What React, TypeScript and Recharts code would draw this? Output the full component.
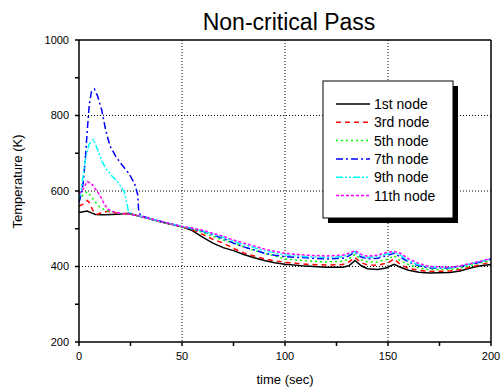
import React from 'react';
import { LineChart, Line, XAxis, YAxis, CartesianGrid } from 'recharts';

// [time (sec), temperature (K)]
const node1 = [
  [0, 543], [2, 545], [4, 547], [6, 542], [8, 538], [12, 537], [16, 538], [20, 539], [24, 541],
  [28, 535], [32, 530], [40, 518], [50, 505], [55, 495], [60, 478], [65, 462], [70, 450],
  [75, 442], [80, 432], [85, 423], [90, 416], [95, 410], [100, 406], [110, 401], [120, 398],
  [128, 398], [131, 402], [134, 416], [137, 402], [140, 394], [145, 392], [149, 396], [153, 406],
  [156, 398], [160, 390], [165, 385], [170, 383], [180, 384], [185, 388], [190, 396], [195, 402],
  [200, 405],
];
const node3 = [
  [0, 560], [2, 565], [4, 575], [5, 570], [7, 545], [9, 538], [11, 543], [14, 546], [18, 542],
  [22, 540], [26, 538], [30, 532], [40, 518], [50, 505], [55, 498], [60, 485], [65, 472],
  [70, 462], [75, 448], [80, 436], [85, 428], [90, 420], [95, 415], [100, 411], [110, 406],
  [120, 404], [128, 405], [131, 412], [134, 424], [137, 410], [140, 404], [145, 403], [150, 410],
  [153, 420], [156, 405], [160, 395], [165, 390], [170, 387], [180, 388], [185, 392], [190, 398],
  [195, 405], [200, 412],
];
const node5 = [
  [0, 575], [2, 590], [4, 598], [6, 585], [8, 570], [10, 558], [13, 548], [16, 545], [20, 541],
  [25, 538], [30, 532], [40, 518], [50, 505], [55, 499], [60, 490], [65, 480], [70, 470],
  [75, 462], [80, 452], [85, 443], [90, 435], [95, 428], [100, 420], [110, 415], [120, 412],
  [128, 414], [131, 420], [134, 432], [137, 418], [140, 412], [145, 412], [150, 420], [153, 428],
  [156, 415], [160, 405], [165, 396], [170, 392], [180, 392], [185, 396], [190, 402], [195, 410],
  [200, 416],
];
const node7 = [
  [0, 570], [1, 590], [2, 620], [3, 680], [4, 760], [5, 830], [6, 862], [7.5, 870], [9, 852],
  [11, 815], [13, 760], [15, 720], [18, 690], [21, 668], [24, 648], [27, 620], [28.5, 590],
  [29, 545], [30, 535], [35, 526], [40, 519], [50, 506], [55, 500], [60, 493], [65, 484],
  [70, 474], [75, 462], [80, 452], [85, 444], [90, 435], [95, 430], [100, 426], [110, 423],
  [120, 420], [128, 422], [131, 428], [134, 438], [137, 425], [140, 420], [145, 422], [150, 430],
  [153, 435], [156, 425], [160, 412], [165, 402], [170, 396], [180, 396], [185, 400], [190, 406],
  [195, 412], [200, 420],
];
const node9 = [
  [0, 580], [1, 600], [2, 640], [3, 680], [4, 705], [5, 725], [7, 737], [9, 710], [11, 680],
  [13, 660], [16, 640], [19, 622], [22, 598], [23.5, 560], [24, 545], [26, 538], [30, 533],
  [40, 519], [50, 506], [55, 501], [60, 494], [65, 486], [70, 477], [75, 467], [80, 458],
  [85, 450], [90, 442], [95, 436], [100, 431], [110, 426], [120, 424], [128, 426], [131, 432],
  [134, 440], [137, 428], [140, 424], [145, 426], [150, 434], [153, 438], [156, 430], [160, 415],
  [165, 404], [170, 398], [180, 397], [185, 401], [190, 407], [195, 413], [200, 421],
];
const node11 = [
  [0, 592], [2, 605], [4, 625], [6, 620], [8, 605], [10, 590], [12, 568], [14, 552], [16, 546],
  [20, 541], [25, 538], [30, 533], [40, 519], [50, 506], [55, 502], [60, 496], [65, 488],
  [70, 480], [75, 470], [80, 462], [85, 454], [90, 446], [95, 440], [100, 435], [110, 430],
  [120, 428], [128, 430], [131, 435], [134, 442], [137, 432], [140, 427], [145, 430], [150, 438],
  [153, 440], [156, 435], [160, 420], [165, 408], [170, 400], [180, 398], [185, 402], [190, 408],
  [195, 414], [200, 422],
];

const seriesNames = ['1st node', '3rd node', '5th node', '7th node', '9th node', '11th node'];
const xTicks = [0, 25, 50, 75, 100, 125, 150, 175, 200];
const yTicks = [200, 300, 400, 500, 600, 700, 800, 900, 1000];

const FONT = '"Liberation Sans", Arial, sans-serif';

const series = [
  { name: seriesNames[0], data: node1, color: '#000000', dash: undefined },
  { name: seriesNames[1], data: node3, color: '#ff0000', dash: '5 4' },
  { name: seriesNames[2], data: node5, color: '#00ff00', dash: '2 3' },
  { name: seriesNames[3], data: node7, color: '#0000ff', dash: '7 3 2 3' },
  { name: seriesNames[4], data: node9, color: '#00ffff', dash: '7 2 2 2 2 2' },
  { name: seriesNames[5], data: node11, color: '#ff00ff', dash: '3 2' },
];

const toPoints = (pairs: number[][]) => pairs.map(([t, T]) => ({ t, T }));

export default function App() {
  const tickStyle = { fontSize: 11, fill: '#000', fontFamily: FONT };
  return (
    <div style={{ position: 'absolute', left: 0, top: 0, width: 504, height: 392, background: '#fff' }}>
      <LineChart width={504} height={392} margin={{ top: 40, right: 13, bottom: 0, left: 0 }}>
        <CartesianGrid
          horizontalValues={[400, 600, 800]}
          verticalValues={[50, 100, 150]}
          stroke="#000"
          strokeDasharray="1 2"
        />
        <XAxis
          dataKey="t"
          type="number"
          domain={[0, 200]}
          ticks={xTicks}
          height={50}
          tickSize={4}
          tickMargin={6}
          tick={tickStyle}
          stroke="#000"
          strokeWidth={1.5}
          tickFormatter={(v: number) => (v % 50 === 0 ? String(v) : '')}
          allowDataOverflow
        />
        <XAxis
          xAxisId="top"
          orientation="top"
          dataKey="t"
          type="number"
          domain={[0, 200]}
          ticks={xTicks}
          height={1}
          mirror
          tickSize={3}
          tick={false}
          stroke="#000"
          strokeWidth={1.5}
        />
        <YAxis
          type="number"
          domain={[200, 1000]}
          ticks={yTicks}
          width={79}
          tickSize={4}
          tickMargin={6}
          tick={tickStyle}
          stroke="#000"
          strokeWidth={1.5}
          tickFormatter={(v: number) => (v % 200 === 0 ? String(v) : '')}
          allowDataOverflow
        />
        <YAxis
          yAxisId="right"
          orientation="right"
          type="number"
          domain={[200, 1000]}
          ticks={yTicks}
          width={1}
          mirror
          tickSize={3}
          tick={false}
          stroke="#000"
          strokeWidth={1.5}
        />
        {series.map((s) => (
          <Line
            key={s.name}
            data={toPoints(s.data)}
            dataKey="T"
            name={s.name}
            type="linear"
            stroke={s.color}
            strokeWidth={1.5}
            strokeDasharray={s.dash}
            dot={false}
            activeDot={false}
            isAnimationActive={false}
          />
        ))}
      </LineChart>
      <svg
        width={504}
        height={392}
        style={{ position: 'absolute', left: 0, top: 0, pointerEvents: 'none' }}
        fontFamily={FONT}
      >
        <text x={289} y={30} textAnchor="middle" fontSize={23} fill="#000">
          Non-critical Pass
        </text>
        <text x={285} y={384} textAnchor="middle" fontSize={13} fill="#000">
          time (sec)
        </text>
        <text transform="translate(22,181.5) rotate(-90)" textAnchor="middle" fontSize={13} fill="#000">
          Temperature (K)
        </text>
        {/* legend */}
        <rect x={328} y={86} width={130} height={137} fill="#000" />
        <rect x={323} y={81} width={130} height={137} fill="#fff" stroke="#000" strokeWidth={1} />
        {series.map((s, i) => {
          const y = 104 + i * 18.3;
          return (
            <g key={s.name}>
              <line x1={336} x2={370} y1={y} y2={y} stroke={s.color} strokeWidth={1.5} strokeDasharray={s.dash} />
              <text x={374} y={y + 5} fontSize={14} fill="#000">
                {s.name}
              </text>
            </g>
          );
        })}
      </svg>
    </div>
  );
}
